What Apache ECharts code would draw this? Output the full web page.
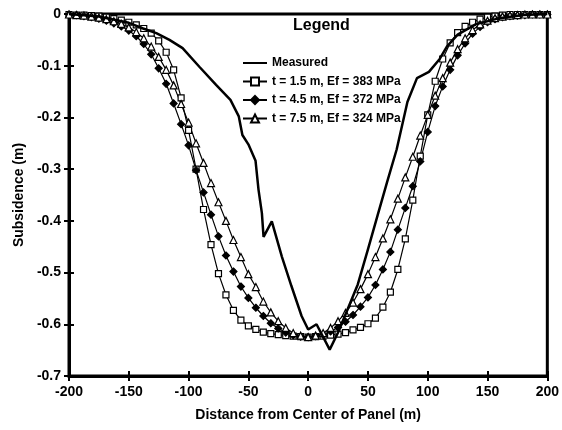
<!DOCTYPE html>
<html>
<head>
<meta charset="utf-8">
<script src="https://cdn.jsdelivr.net/npm/echarts/dist/echarts.min.js"></script>
<style>
  html, body { margin: 0; padding: 0; background: #fff; }
  #chart { width: 562px; height: 430px; }
</style>
</head>
<body>
<div id="chart"></div>
<script>
// distance from centre of panel (m), model points
const xGrid = [-200, -193.75, -187.5, -181.25, -175, -168.75, -162.5, -156.25, -150, -143.75,
  -137.5, -131.25, -125, -118.75, -112.5, -106.25, -100, -93.75, -87.5, -81.25,
  -75, -68.75, -62.5, -56.25, -50, -43.75, -37.5, -31.25, -25, -18.75, -12.5, -6.25,
  0, 6.25, 12.5, 18.75, 25, 31.25, 37.5, 43.75, 50, 56.25, 62.5, 68.75, 75, 81.25,
  87.5, 93.75, 100, 106.25, 112.5, 118.75, 125, 131.25, 137.5, 143.75, 150, 156.25,
  162.5, 168.75, 175, 181.25, 187.5, 193.75, 200]

// t = 1.5 m, Ef = 383 MPa
const subT15 = [-0.001, -0.002, -0.002, -0.003, -0.004, -0.006, -0.009, -0.012, -0.016, -0.021,
  -0.028, -0.037, -0.052, -0.074, -0.108, -0.162, -0.225, -0.30, -0.378, -0.446,
  -0.502, -0.543, -0.573, -0.592, -0.603, -0.61, -0.615, -0.618, -0.62, -0.622, -0.623, -0.624,
  -0.625, -0.624, -0.623, -0.621, -0.619, -0.616, -0.611, -0.606, -0.599, -0.588, -0.567, -0.538,
  -0.494, -0.435, -0.36, -0.275, -0.195, -0.13, -0.087, -0.056, -0.036, -0.024, -0.016, -0.01,
  -0.006, -0.004, -0.002, -0.001, -0.001, -0.001, -0.001, -0.001, -0.001]

// t = 4.5 m, Ef = 372 MPa
const subT45 = [-0.001, -0.002, -0.004, -0.006, -0.009, -0.013, -0.018, -0.024, -0.032, -0.043,
  -0.058, -0.078, -0.105, -0.135, -0.173, -0.213, -0.254, -0.302, -0.345, -0.388,
  -0.43, -0.467, -0.498, -0.527, -0.549, -0.568, -0.584, -0.598, -0.608, -0.616, -0.621, -0.624,
  -0.625, -0.623, -0.62, -0.614, -0.606, -0.595, -0.582, -0.566, -0.548, -0.524, -0.494, -0.46,
  -0.417, -0.375, -0.333, -0.285, -0.228, -0.178, -0.14, -0.108, -0.08, -0.057, -0.038, -0.025,
  -0.016, -0.01, -0.006, -0.004, -0.003, -0.002, -0.001, -0.001, -0.001]

// t = 7.5 m, Ef = 324 MPa
const subT75 = [-0.001, -0.002, -0.003, -0.005, -0.007, -0.01, -0.014, -0.019, -0.026, -0.035,
  -0.047, -0.063, -0.083, -0.108, -0.138, -0.174, -0.21, -0.25, -0.288, -0.327,
  -0.364, -0.40, -0.437, -0.47, -0.503, -0.528, -0.556, -0.577, -0.594, -0.607, -0.617, -0.622,
  -0.625, -0.622, -0.617, -0.607, -0.594, -0.578, -0.558, -0.532, -0.503, -0.47, -0.434, -0.397,
  -0.357, -0.316, -0.276, -0.235, -0.195, -0.158, -0.124, -0.094, -0.068, -0.047, -0.031, -0.02,
  -0.013, -0.008, -0.005, -0.003, -0.002, -0.001, -0.001, -0.001, -0.001]

// measured profile
const measuredX = [-200, -175, -150, -138, -127, -116, -105, -91, -77, -65, -58, -55, -50, -44,
  -41.5, -38.7, -37.3, -30.4, -22, -14, -5.5, 0, 7, 18, 25, 33, 41.5, 50, 58, 66, 74, 83, 91,
  101, 110, 116, 125, 140, 160, 180, 200]
const measuredY = [0, -0.005, -0.017, -0.028, -0.037, -0.05, -0.066, -0.102, -0.137, -0.166,
  -0.198, -0.234, -0.252, -0.284, -0.34, -0.385, -0.431, -0.401, -0.469, -0.526, -0.584, -0.61,
  -0.60, -0.649, -0.616, -0.571, -0.523, -0.455, -0.39, -0.325, -0.262, -0.17, -0.124, -0.112,
  -0.087, -0.063, -0.04, -0.02, -0.008, -0.002, 0]

const seriesNames = ['Measured', 't = 1.5 m, Ef = 383 MPa', 't = 4.5 m, Ef = 372 MPa', 't = 7.5 m, Ef = 324 MPa']

const font = "'Liberation Sans', Arial, sans-serif"
const pair = (xs, ys) => xs.map((x, i) => [x, ys[i]])

const chart = echarts.init(document.getElementById('chart'))

const modelLine = (name, ys, symbol, size, fill) => ({
  name: name,
  type: 'line',
  data: pair(xGrid, ys),
  symbol: symbol,
  symbolSize: size,
  showAllSymbol: true,
  lineStyle: { color: '#000', width: 1.2 },
  itemStyle: { color: fill, borderColor: '#000', borderWidth: 1.2 },
  z: 3
})

const option = {
  backgroundColor: '#fff',
  animation: false,
  textStyle: { fontFamily: font },
  title: {
    text: 'Legend',
    left: 293,
    top: 18,
    padding: 0,
    textStyle: { fontFamily: font, fontSize: 16, fontWeight: 'bold', color: '#000' }
  },
  legend: {
    data: [
      { name: seriesNames[0], itemStyle: { opacity: 0 } },
      seriesNames[1], seriesNames[2], seriesNames[3]
    ],
    orient: 'vertical',
    left: 242,
    top: 57,
    padding: 0,
    itemWidth: 24,
    itemHeight: 10,
    itemGap: 6.5,
    textStyle: { fontFamily: font, fontSize: 12, fontWeight: 'bold', color: '#000' }
  },
  grid: {
    left: 69, right: 11, top: 14, bottom: 54,
    show: true,
    borderColor: '#000',
    borderWidth: 3
  },
  xAxis: [{
    type: 'value',
    min: -200, max: 200, interval: 50,
    position: 'bottom',
    name: 'Distance from Center of Panel (m)',
    nameLocation: 'middle',
    nameGap: 32,
    nameTextStyle: { fontFamily: font, fontSize: 14, fontWeight: 'bold', color: '#000' },
    axisLine: { onZero: false, lineStyle: { color: '#000', width: 3 } },
    axisTick: { length: 5, lineStyle: { color: '#000', width: 2 } },
    axisLabel: { fontFamily: font, fontSize: 14, fontWeight: 'bold', color: '#000', margin: 9 },
    splitLine: { show: false }
  }, {
    type: 'value',
    min: -200, max: 200, interval: 50,
    position: 'bottom',
    offset: 0,
    axisLine: { show: false, onZero: false },
    axisTick: { inside: true, length: 5, lineStyle: { color: '#000', width: 2 } },
    axisLabel: { show: false },
    splitLine: { show: false }
  }],
  yAxis: [{
    type: 'value',
    min: -0.7, max: 0, interval: 0.1,
    position: 'left',
    name: 'Subsidence (m)',
    nameLocation: 'middle',
    nameGap: 42,
    nameTextStyle: { fontFamily: font, fontSize: 14, fontWeight: 'bold', color: '#000' },
    axisLine: { onZero: false, lineStyle: { color: '#000', width: 3 } },
    axisTick: { length: 5, lineStyle: { color: '#000', width: 2 } },
    axisLabel: { fontFamily: font, fontSize: 14, fontWeight: 'bold', color: '#000', margin: 8 },
    splitLine: { show: false }
  }, {
    type: 'value',
    min: -0.7, max: 0, interval: 0.1,
    position: 'left',
    offset: 0,
    axisLine: { show: false, onZero: false },
    axisTick: { inside: true, length: 5, lineStyle: { color: '#000', width: 2 } },
    axisLabel: { show: false },
    splitLine: { show: false }
  }],
  series: [
    {
      name: seriesNames[0],
      type: 'line',
      data: pair(measuredX, measuredY),
      symbol: 'none',
      lineStyle: { color: '#000', width: 2.5 },
      itemStyle: { color: '#000' },
      z: 4
    },
    modelLine(seriesNames[1], subT15, 'rect', 6, '#fff'),
    modelLine(seriesNames[2], subT45, 'diamond', 7, '#000'),
    modelLine(seriesNames[3], subT75, 'triangle', 7, '#fff')
  ]
}

chart.setOption(option)
</script>
</body>
</html>
